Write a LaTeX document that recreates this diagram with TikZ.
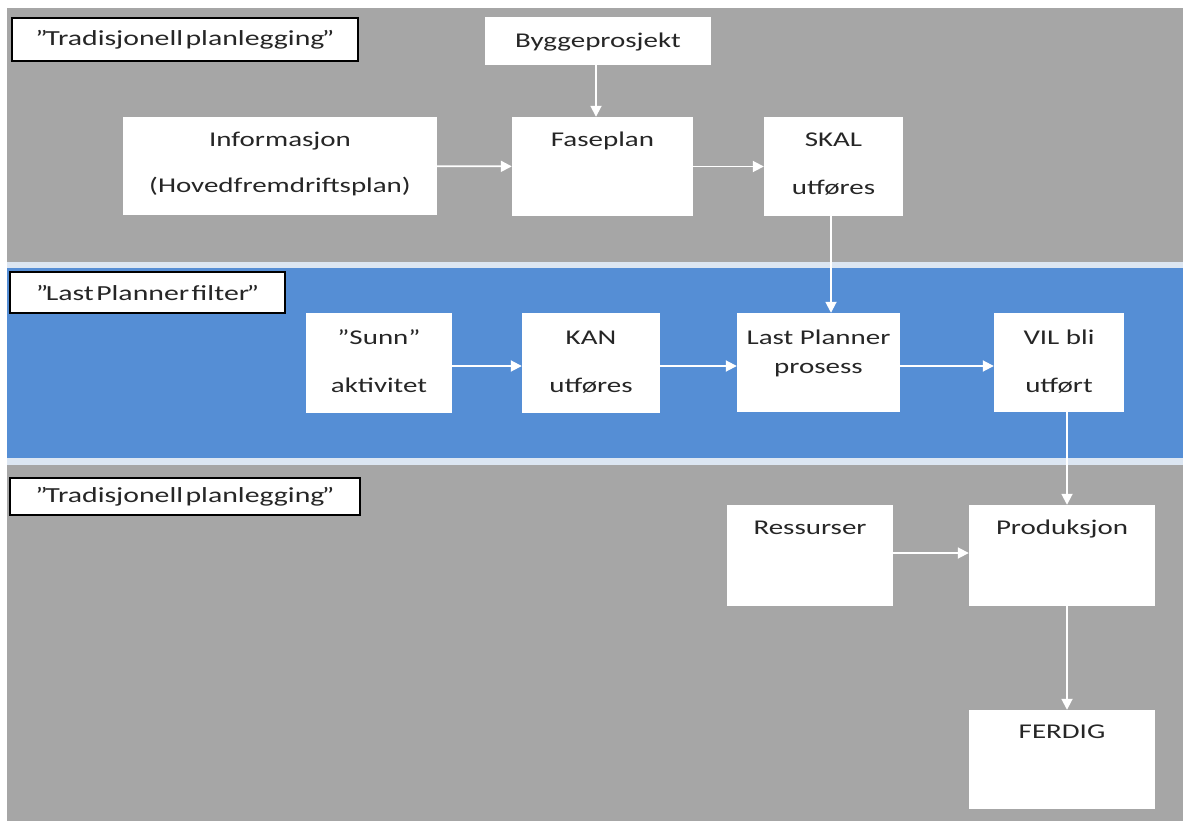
\documentclass[tikz,border=0pt]{standalone}
\usepackage{fontspec}
\setmainfont{Carlito}
\newfontfamily\boxfont[FakeStretch=1.38]{Carlito}
\newfontfamily\tagfont[FakeStretch=1.385]{Carlito}
\usetikzlibrary{arrows.meta}
\definecolor{bggray}{HTML}{A6A6A6}
\definecolor{bgblue}{HTML}{558ED5}
\definecolor{sepcol}{HTML}{DCE6F2}
\definecolor{txt}{HTML}{262626}
\newcommand{\qk}{\kern-2.5pt}
\newcommand{\tagfmt}{\tagfont\fontsize{21.5}{24}\selectfont\setlength{\spaceskip}{2.5pt plus 1pt}}
\begin{document}
\begin{tikzpicture}[x=1pt,y=-1pt,
  box/.style={fill=white, draw=none, inner sep=0pt},
  t/.style={font=\boxfont\fontsize{21}{25}\selectfont, text=txt, inner sep=0pt, anchor=base},
  tag/.style={draw=black, line width=1.3pt, fill=white, inner sep=0pt, text=txt, font=\tagfmt},
  arr/.style={draw=white, line width=1.8pt, -{Triangle[length=11pt,width=11pt]}}]
\useasboundingbox (0,0) rectangle (1183,821);
% background bands
\fill[white] (0,0) rectangle (1183,821);
\fill[bggray] (7,8) rectangle (1183,262);
\fill[sepcol] (7,262) rectangle (1183,268);
\fill[bgblue] (7,268) rectangle (1183,458);
\fill[sepcol] (7,458) rectangle (1183,465);
\fill[bggray] (7,465) rectangle (1183,821);
% band tags
\node[tag, minimum width=346pt, minimum height=43pt] (tag1) at (185,39.5) {”\qk Tradisjonell planlegging\qk ”};
\node[tag, minimum width=275pt, minimum height=41pt] (tag2) at (147.5,292.5) {”\qk Last Planner filter\qk ”};
\node[tag, minimum width=350pt, minimum height=37pt] (tag3) at (185,496.5) {”\qk Tradisjonell planlegging\qk ”};
% top band boxes
\node[box, minimum width=226pt, minimum height=48pt,
      label={[t,yshift=-31pt]north:Byggeprosjekt}] (bygg) at (598,41) {};
\node[box, minimum width=314pt, minimum height=98pt,
      label={[t,yshift=-30pt]north:Informasjon},
      label={[t,yshift=-76pt]north:(Hovedfremdriftsplan)}] (info) at (280,166) {};
\node[box, minimum width=181pt, minimum height=99pt,
      label={[t,yshift=-30pt]north:Faseplan}] (fase) at (602.5,166.5) {};
\node[box, minimum width=139pt, minimum height=99pt,
      label={[t,yshift=-30pt]north:SKAL},
      label={[t,yshift=-78pt]north:utføres}] (skal) at (833.5,166.5) {};
% blue band boxes
\node[box, minimum width=146pt, minimum height=100pt,
      label={[t,yshift=-32pt]north:”Sunn”},
      label={[t,yshift=-80pt]north:aktivitet}] (sunn) at (379,363) {};
\node[box, minimum width=138pt, minimum height=100pt,
      label={[t,yshift=-32pt]north:KAN},
      label={[t,yshift=-80pt]north:utføres}] (kan) at (591,363) {};
\node[box, minimum width=163pt, minimum height=99pt,
      label={[t,yshift=-32pt]north:Last Planner},
      label={[t,yshift=-61pt]north:prosess}] (lp) at (818.5,362.5) {};
\node[box, minimum width=130pt, minimum height=99pt,
      label={[t,yshift=-32pt]north:VIL bli},
      label={[t,yshift=-80pt]north:utført}] (vil) at (1059,362.5) {};
% bottom band boxes
\node[box, minimum width=166pt, minimum height=101pt,
      label={[t,yshift=-30pt]north:Ressurser}] (ress) at (810,555.5) {};
\node[box, minimum width=186pt, minimum height=101pt,
      label={[t,yshift=-30pt]north:Produksjon}] (prod) at (1062,555.5) {};
\node[box, minimum width=186pt, minimum height=99pt,
      label={[t,yshift=-29pt]north:FERDIG}] (ferdig) at (1062,759.5) {};
% connectors
\coordinate (byggbot) at (596,65);
\draw[arr] (byggbot) -- (byggbot |- fase.north);
\draw[arr] (info) -- (fase);
\draw[arr] (fase) -- (skal);
\coordinate (skalbot) at (831,216.5);
\draw[arr] (skalbot) -- (skalbot |- lp.north);
\draw[arr] (sunn.east |- 0,366) -- (kan.west |- 0,366);
\draw[arr] (kan.east |- 0,366) -- (lp.west |- 0,366);
\draw[arr] (lp.east |- 0,366) -- (vil.west |- 0,366);
\coordinate (vilbot) at (1067,412);
\draw[arr] (vilbot) -- (vilbot |- prod.north);
\draw[arr] (ress.east |- 0,553) -- (prod.west |- 0,553);
\coordinate (prodbot) at (1067,606);
\draw[arr] (prodbot) -- (prodbot |- ferdig.north);
\end{tikzpicture}
\end{document}
